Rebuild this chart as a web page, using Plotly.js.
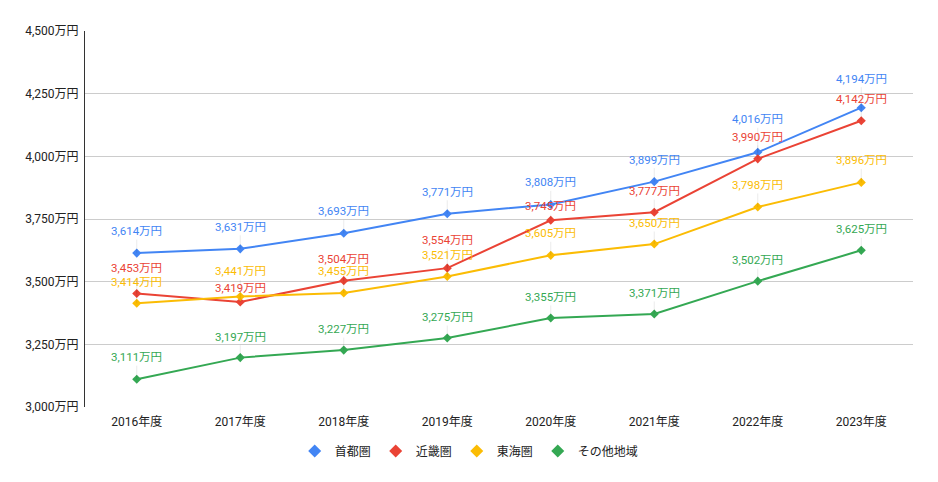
<!DOCTYPE html>
<html>
<head>
<meta charset="utf-8">
<script src="https://cdn.plot.ly/plotly-3.0.1.min.js"></script>
<style>
  html, body { margin: 0; padding: 0; background: #fff; }
  #chart { width: 938px; height: 482px; }
</style>
</head>
<body>
<div id="chart"></div>
<script>
// 年度
const years = ['2016年度', '2017年度', '2018年度', '2019年度', '2020年度', '2021年度', '2022年度', '2023年度'];

// 各地域の値（万円）
const shutoken = [3614, 3631, 3693, 3771, 3808, 3899, 4016, 4194];
const kinkiken = [3453, 3419, 3504, 3554, 3745, 3777, 3990, 4142];
const tokaiken = [3414, 3441, 3455, 3521, 3605, 3650, 3798, 3896];
const sonota   = [3111, 3197, 3227, 3275, 3355, 3371, 3502, 3625];

// 縦軸の目盛り
const yTicks = [3000, 3250, 3500, 3750, 4000, 4250, 4500];

const seriesNames = ['首都圏', '近畿圏', '東海圏', 'その他地域'];
const colors = ['#4285F4', '#EA4335', '#FBBC04', '#34A853'];
const allValues = [shutoken, kinkiken, tokaiken, sonota];

// ラベルの上方向オフセット（重なり回避用、px）
const labelOffsets = [
    [22, 22, 22, 22, 22, 22, 33, 29],
    [25, 14, 22, 28, 14, 21, 22, 22],
    [21, 25, 22, 21, 22, 21, 22, 22],
    [22, 21, 21, 21, 21, 21, 21, 21]
];

const FONT = 'Roboto, "Noto Sans CJK JP", sans-serif';
const fmt = v => v.toLocaleString('en-US') + '万円';

// 折れ線
const data = allValues.map((vals, i) => ({
    x: years,
    y: vals,
    name: seriesNames[i],
    type: 'scatter',
    mode: 'lines+markers',
    line: { color: colors[i], width: 2 },
    marker: { color: colors[i], symbol: 'diamond', size: 7 },
    showlegend: false,
    hoverinfo: 'skip'
}));

// 凡例用（マーカーのみ）
seriesNames.forEach((name, i) => {
    data.push({
        x: [null],
        y: [null],
        name: name,
        type: 'scatter',
        mode: 'markers',
        marker: { color: colors[i], symbol: 'diamond', size: 10 },
        hoverinfo: 'skip'
    });
});

// データラベル
const annotations = [];
allValues.forEach((vals, i) => {
    vals.forEach((v, j) => {
        annotations.push({
            x: years[j],
            y: v,
            xref: 'x',
            yref: 'y',
            text: fmt(v),
            showarrow: true,
            arrowhead: 0,
            arrowwidth: 1,
            arrowcolor: 'rgba(0,0,0,0.07)',
            ax: 0,
            ay: -labelOffsets[i][j],
            standoff: 0,
            yanchor: 'middle',
            font: { family: FONT, size: 11.5, color: colors[i] }
        });
    });
});

const layout = {
    width: 938,
    height: 482,
    margin: { l: 85, r: 25, t: 31, b: 75, autoexpand: false },
    paper_bgcolor: '#ffffff',
    plot_bgcolor: '#ffffff',
    font: { family: FONT, size: 12, color: '#222222' },
    showlegend: true,
    legend: {
        orientation: 'h',
        x: 0.464,
        xanchor: 'center',
        y: -0.117,
        yanchor: 'middle',
        font: { family: FONT, size: 12, color: '#222222' }
    },
    xaxis: {
        type: 'category',
        range: [-0.5, 7.5],
        showgrid: false,
        showline: false,
        zeroline: false,
        ticks: '',
        tickangle: 0,
        automargin: false,
        ticklabelstandoff: 6,
        tickfont: { family: FONT, size: 12, color: '#222222' }
    },
    yaxis: {
        range: [3000, 4500],
        tickmode: 'array',
        tickvals: yTicks,
        ticktext: yTicks.map(fmt),
        showgrid: true,
        gridcolor: '#cccccc',
        gridwidth: 1,
        showline: true,
        linecolor: '#333333',
        linewidth: 1,
        zeroline: false,
        ticks: '',
        automargin: false,
        ticklabelstandoff: 3,
        tickfont: { family: FONT, size: 12, color: '#222222' }
    },
    annotations: annotations
};

Plotly.newPlot('chart', data, layout, { displayModeBar: false, staticPlot: true });
</script>
</body>
</html>
